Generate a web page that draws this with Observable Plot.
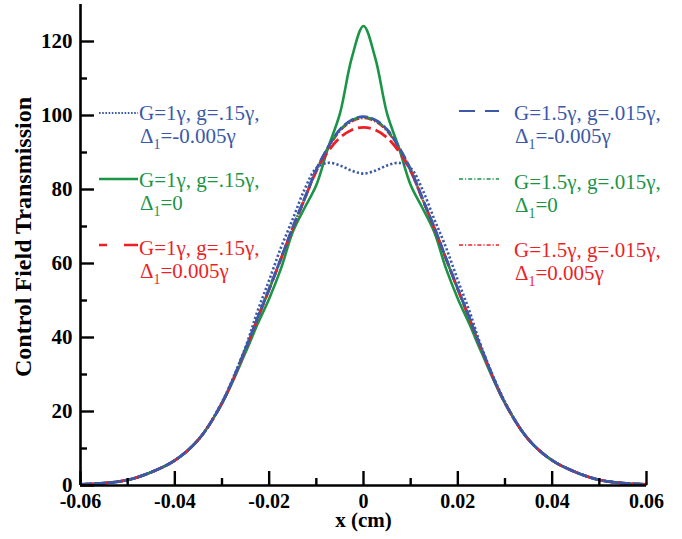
<!DOCTYPE html>
<html>
<head>
<meta charset="utf-8">
<script src="https://cdn.jsdelivr.net/npm/d3@7"></script>
<script src="https://cdn.jsdelivr.net/npm/@observablehq/plot@0.6"></script>
<style>
  html, body { margin: 0; padding: 0; background: #fff; }
  #chart { width: 682px; height: 539px; }
</style>
</head>
<body>
<div id="chart"></div>
<script>
// ---- data ----
const xs = [-0.06,-0.055,-0.05,-0.045,-0.04,-0.035,-0.03,-0.025,-0.0225,-0.02,-0.0175,-0.015,-0.0125,-0.01,-0.0075,-0.005,-0.0025,0,0.0025,0.005,0.0075,0.01,0.0125,0.015,0.0175,0.02,0.0225,0.025,0.03,0.035,0.04,0.045,0.05,0.055,0.06];

// G=1γ, g=.15γ, Δ1=-0.005γ
const s1 = [0.3,0.65,1.5,3.6,6.8,12.4,22.6,37.5,47,55.5,64.3,72,80,85.8,87.2,86.5,85.1,84.3,85.1,86.5,87.2,85.8,80,72,64.3,55.5,47,37.5,22.6,12.4,6.8,3.6,1.5,0.65,0.3];
// G=1γ, g=.15γ, Δ1=0
const s2 = [0.3,0.65,1.5,3.6,6.8,12.4,22.2,36,43.5,50.5,58.6,68.5,75,81.2,91.3,100.5,115.5,124.2,115.5,100.5,91.3,81.2,75,68.5,58.6,50.5,43.5,36,22.2,12.4,6.8,3.6,1.5,0.65,0.3];
// G=1γ, g=.15γ, Δ1=0.005γ
const s3 = [0.3,0.65,1.5,3.6,6.8,12.4,22.3,36.8,45,53,61.3,69.6,77.4,85,90.3,94,96.1,96.8,96.1,94,90.3,85,77.4,69.6,61.3,53,45,36.8,22.3,12.4,6.8,3.6,1.5,0.65,0.3];
// G=1.5γ, g=.015γ, Δ1=-0.005γ
const s4 = [0.3,0.65,1.5,3.6,6.8,12.4,22.3,37,45.2,53.2,61.4,69.8,77.6,85.4,91.5,96.2,98.8,99.7,98.8,96.2,91.5,85.4,77.6,69.8,61.4,53.2,45.2,37,22.3,12.4,6.8,3.6,1.5,0.65,0.3];
// G=1.5γ, g=.015γ, Δ1=0
const s5 = [0.3,0.65,1.5,3.6,6.8,12.4,22.3,36.9,45.1,53.1,61.3,69.7,77.5,85.3,91.4,96.1,98.7,99.6,98.7,96.1,91.4,85.3,77.5,69.7,61.3,53.1,45.1,36.9,22.3,12.4,6.8,3.6,1.5,0.65,0.3];
// G=1.5γ, g=.015γ, Δ1=0.005γ
const s6 = [0.3,0.65,1.5,3.6,6.8,12.4,22.3,36.9,45,53,61.2,69.5,77.3,85,91.1,95.8,98.4,99.3,98.4,95.8,91.1,85,77.3,69.5,61.2,53,45,36.9,22.3,12.4,6.8,3.6,1.5,0.65,0.3];

const legendLine1 = ["G=1γ, g=.15γ,","G=1γ, g=.15γ,","G=1γ, g=.15γ,","G=1.5γ, g=.015γ,","G=1.5γ, g=.015γ,","G=1.5γ, g=.015γ,"];
const legendDelta = ["-0.005γ","0","0.005γ","-0.005γ","0","0.005γ"];

const xTicksMajor = [-0.06,-0.04,-0.02,0,0.02,0.04,0.06];
const xTicksMinor = [-0.05,-0.03,-0.01,0.01,0.03,0.05];
const yTicksMajor = [0,20,40,60,80,100,120];
const yTicksMinor = [10,30,50,70,90,110];

const xLabel = "x (cm)";
const yLabel = "Control Field Transmission";

// ---- styles ----
const BLUE = "#3b59a8", GREEN = "#1a9546", RED = "#ed1f26";
const FONT = "'Liberation Serif', 'Times New Roman', serif";
const values = [s1, s2, s3, s4, s5, s6];
const styles = [
  {color: BLUE,  dash: "2.2,2.2",     width: 2.6, legDash: "1.6,1.6",   legWidth: 2},
  {color: GREEN, dash: null,          width: 2.6, legDash: null,        legWidth: 2.5},
  {color: RED,   dash: "13,5",        width: 2.8, legDash: "8,17,15",   legWidth: 2.5},
  {color: BLUE,  dash: "11,3.5",      width: 2.8, legDash: "16,10,14",  legWidth: 2},
  {color: GREEN, dash: "8,2,1.5,2",   width: 2.4, legDash: "4,2,1.2,2", legWidth: 1.4},
  {color: RED,   dash: "8,2,1.5,2",   width: 2.4, legDash: "4,2,1.2,2", legWidth: 1.4}
];
const drawOrder = [1, 5, 4, 2, 0, 3];

const W = 682, H = 539;
const mL = 80, mR = 36, mT = 4, mB = 54;
const innerW = W - mL - mR, innerH = H - mT - mB;

const fmtX = d => d === 0 ? "0" : d.toFixed(2);

const lineMarks = drawOrder.map(i => {
  const data = xs.map((x, j) => ({x, y: values[i][j]}));
  const st = styles[i];
  return Plot.line(data, {
    x: "x", y: "y", curve: "catmull-rom",
    stroke: st.color, strokeWidth: st.width,
    strokeDasharray: st.dash ?? undefined, strokeLinecap: "butt"
  });
});

const plot = Plot.plot({
  width: W, height: H,
  marginLeft: mL, marginRight: mR, marginTop: mT, marginBottom: mB,
  style: {fontFamily: FONT, color: "#000", background: "#fff", overflow: "visible"},
  x: {domain: [-0.06, 0.06]},
  y: {domain: [0, 130]},
  marks: [
    ...lineMarks,
    Plot.tickX(xTicksMajor, {x: d => d, insetTop: innerH - 14, stroke: "#000", strokeWidth: 2.4}),
    Plot.tickX(xTicksMinor, {x: d => d, insetTop: innerH - 7, stroke: "#000", strokeWidth: 2.4}),
    Plot.tickY(yTicksMajor, {y: d => d, insetRight: innerW - 14, stroke: "#000", strokeWidth: 2.4}),
    Plot.tickY(yTicksMinor, {y: d => d, insetRight: innerW - 7, stroke: "#000", strokeWidth: 2.4}),
    Plot.ruleX([-0.06], {stroke: "#000", strokeWidth: 2.6}),
    Plot.ruleY([0], {stroke: "#000", strokeWidth: 2.6}),
    Plot.axisX(xTicksMajor, {tickSize: 0, tickPadding: 8, tickFormat: fmtX, fontSize: 20, fontWeight: "bold", label: null}),
    Plot.axisY(yTicksMajor, {tickSize: 0, tickPadding: 8, fontSize: 21, fontWeight: "bold", label: null}),
    Plot.text([xLabel], {frameAnchor: "bottom", dy: 41, fontSize: 21, fontWeight: "bold", fill: "#000"}),
    Plot.text([yLabel], {frameAnchor: "left", textAnchor: "middle", dx: -57, dy: -8, rotate: -90, fontSize: 24, fontWeight: "bold", fill: "#000"})
  ]
});

// ---- legend (inside the plot, two columns) ----
const svg = d3.select(plot);
const leg = svg.append("g").attr("font-family", FONT).attr("font-size", 21)
  .attr("text-anchor", "start").attr("font-weight", "normal");
const layout = {
  left:  {x1: 99,  x2: 138, tx: 139, lineY: [113, 179, 245], textY: [113, 180, 248]},
  right: {x1: 459, x2: 499, tx: 514, lineY: [111, 179, 245], textY: [113, 182, 250]}
};
styles.forEach((st, i) => {
  const L = i < 3 ? layout.left : layout.right;
  const r = i % 3;
  const ln = leg.append("line")
    .attr("x1", L.x1).attr("x2", L.x2)
    .attr("y1", L.lineY[r]).attr("y2", L.lineY[r])
    .attr("stroke", st.color).attr("stroke-width", st.legWidth);
  if (st.legDash) ln.attr("stroke-dasharray", st.legDash);
  leg.append("text").attr("x", L.tx).attr("y", L.textY[r]).attr("dy", "0.35em")
    .attr("text-anchor", "start").attr("fill", st.color).text(legendLine1[i]);
  const t2 = leg.append("text").attr("x", L.tx + 1).attr("y", L.textY[r] + 23).attr("dy", "0.35em")
    .attr("text-anchor", "start").attr("fill", st.color);
  t2.append("tspan").text("Δ");
  t2.append("tspan").attr("font-size", 14).attr("dy", 6).text("1");
  t2.append("tspan").attr("dy", -6).text("=" + legendDelta[i]);
});

document.getElementById("chart").appendChild(plot);
</script>
</body>
</html>
